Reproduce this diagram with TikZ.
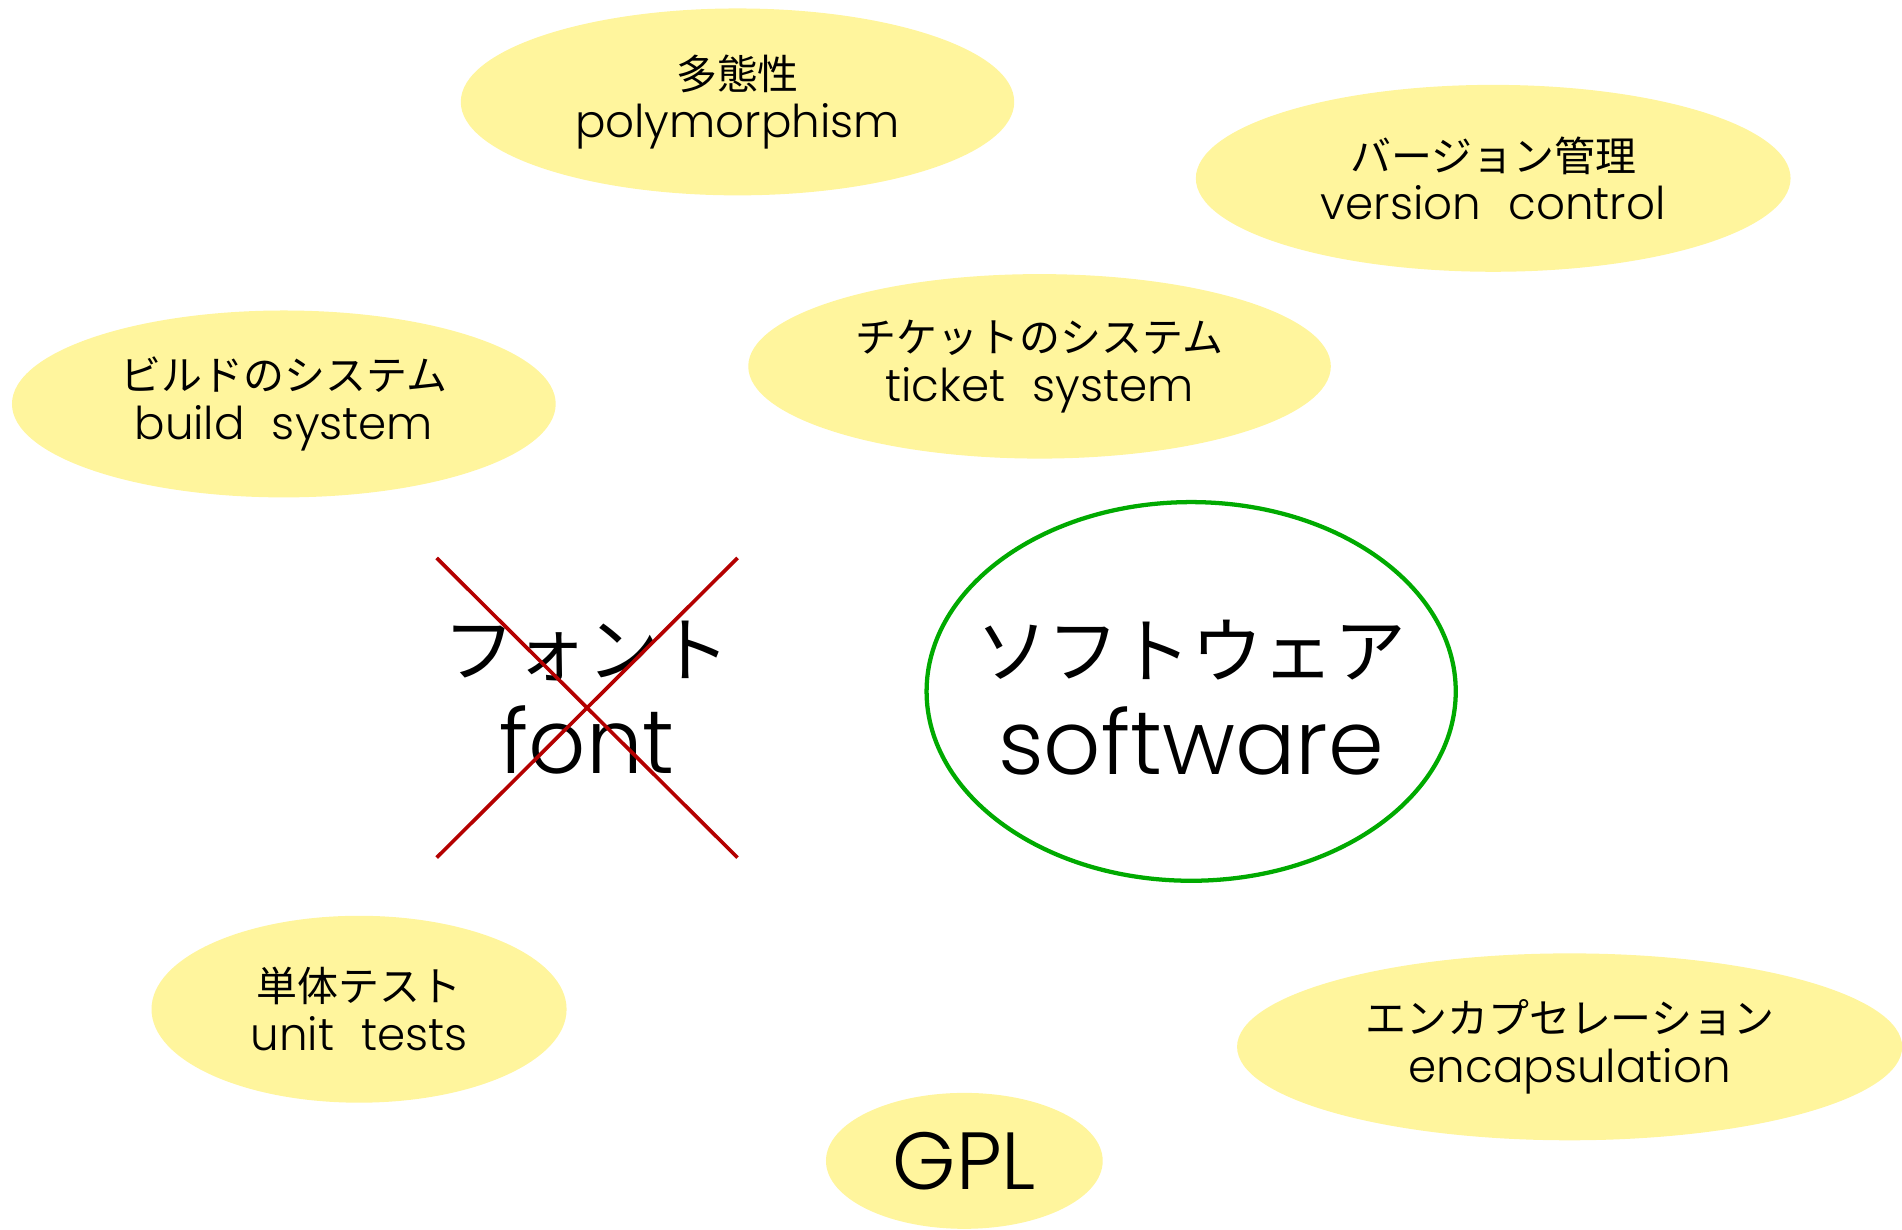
\documentclass[tikz,border=0pt]{standalone}
\usepackage{fontspec}
\setmainfont{Poppins Light}
\newfontfamily\jpfont{Noto Sans CJK JP}
\usetikzlibrary{shapes.geometric}
\definecolor{blobfill}{RGB}{255,245,157}
\definecolor{swgreen}{RGB}{0,170,0}
\definecolor{crossred}{RGB}{180,0,0}
\newcommand{\jsm}[1]{{\jpfont\fontsize{9.6}{11.4}\selectfont #1}}
\newcommand{\jlg}[1]{{\jpfont\fontsize{16.8}{22.8}\selectfont #1}}
\newcommand{\wsp}{\hspace{0.6em}}
\begin{document}
\begin{tikzpicture}[x=0.01cm,y=-0.01cm,
  blob/.style={ellipse, fill=blobfill, inner sep=0pt, align=center,
    font=\fontsize{10.6}{11.4}\selectfont},
  bigtext/.style={align=center, inner sep=0pt, font=\fontsize{21}{22.8}\selectfont},
  ring/.style={ellipse, draw=swgreen, line width=1pt, inner sep=0pt},
  cross/.style={draw=crossred, line width=0.85pt}]
\useasboundingbox (0,0) rectangle (1568,1014);
\node[blob, minimum width=4.56cm, minimum height=1.54cm] (poly) at (608,84) {\jsm{多態性}\\polymorphism};
\node[blob, minimum width=4.90cm, minimum height=1.54cm] (vc) at (1231,147) {\jsm{バージョン管理}\\version\wsp control};
\node[blob, minimum width=4.80cm, minimum height=1.52cm] (ticket) at (857,302) {\jsm{チケットのシステム}\\ticket\wsp system};
\node[blob, minimum width=4.48cm, minimum height=1.54cm] (build) at (234,333) {\jsm{ビルドのシステム}\\build\wsp system};
\node[blob, minimum width=3.42cm, minimum height=1.54cm] (unit) at (296,832) {\jsm{単体テスト}\\unit\wsp tests};
\node[blob, minimum width=5.48cm, minimum height=1.54cm] (encap) at (1294,863) {\jsm{エンカプセレーション}\\encapsulation};
\node[blob, minimum width=2.28cm, minimum height=1.12cm, font=\fontsize{19}{22}\selectfont] (gpl) at (795,957) {GPL};
\node[ring, minimum width=4.36cm, minimum height=3.12cm] (swring) at (982,570) {};
\node[bigtext] (sw) at (982,575) {\jlg{ソフトウェア}\\software};
\node[bigtext] (font) at (484,575) {\jlg{フォント}\\font};
\coordinate (c1) at (360,460);
\coordinate (c2) at (608,707);
\coordinate (c3) at (608,460);
\coordinate (c4) at (360,707);
\draw[cross] (c1) -- (c2);
\draw[cross] (c3) -- (c4);
\end{tikzpicture}
\end{document}
